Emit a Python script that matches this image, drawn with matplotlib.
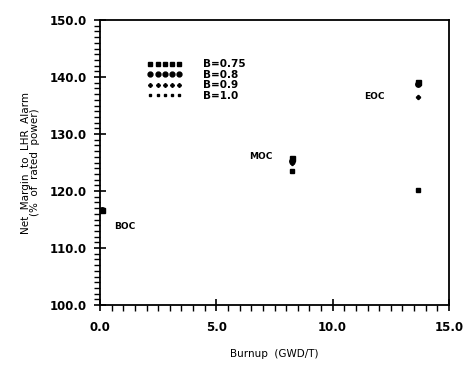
import matplotlib
matplotlib.use("Agg")
import matplotlib.pyplot as plt
from matplotlib.ticker import MultipleLocator, FormatStrFormatter

# burnup points (GWD/T) and net margin for each B value
burnup = [0.1, 8.25, 13.65]
margin_075 = [116.7, 125.8, 139.2]
margin_08 = [116.7, 125.3, 138.8]
margin_09 = [116.7, 125.0, 136.5]
margin_10 = [116.7, 123.5, 120.2]
labels = ["B=0.75", "B=0.8", "B=0.9", "B=1.0"]

plt.rcParams["font.family"] = "DejaVu Sans"
plt.rcParams["font.weight"] = "bold"

fig = plt.figure(figsize=(4.67, 3.72), dpi=100)
ax = fig.add_axes([100 / 467, 1 - 305 / 372, 349 / 467, 285 / 372])

ax.plot(burnup, margin_075, ls="none", marker="s", ms=3.6, color="black", label=labels[0])
ax.plot(burnup, margin_08, ls="none", marker="o", ms=3.9, color="black", label=labels[1])
ax.plot(burnup, margin_09, ls="none", marker="P", ms=2.8, color="black", label=labels[2])
ax.plot(burnup, margin_10, ls="none", marker="s", ms=2.3, color="black", label=labels[3])

ax.text(1.05, 113.8, "BOC", fontsize=6.5, ha="center", va="center")
ax.text(6.9, 126.0, "MOC", fontsize=6.5, ha="center", va="center")
ax.text(11.8, 136.5, "EOC", fontsize=6.5, ha="center", va="center")

ax.set_xlim(0, 15)
ax.set_ylim(100, 150)
ax.xaxis.set_major_locator(MultipleLocator(5))
ax.xaxis.set_minor_locator(MultipleLocator(0.5))
ax.yaxis.set_major_locator(MultipleLocator(10))
ax.yaxis.set_minor_locator(MultipleLocator(1))
ax.xaxis.set_major_formatter(FormatStrFormatter("%.1f"))
ax.yaxis.set_major_formatter(FormatStrFormatter("%.1f"))
ax.tick_params(which="major", direction="inout", length=9, width=1.2, labelsize=8.5)
ax.tick_params(axis="x", which="major", pad=7)
ax.tick_params(axis="y", which="major", pad=5)
ax.tick_params(which="minor", direction="out", length=4, width=1.0)
for s in ax.spines.values():
    s.set_linewidth(1.3)

ax.set_xlabel("Burnup  (GWD/T)", fontsize=7.5, labelpad=11)
ax.set_ylabel("Net  Margin  to  LHR  Alarm\n(%  of  rated  power)", fontsize=7.5,
              labelpad=7, linespacing=0.9)

ax.legend(loc="upper left", bbox_to_anchor=(0.12, 0.88), frameon=False, numpoints=5,
          handlelength=3.4, handletextpad=2.0, labelspacing=0.05, fontsize=7.5,
          borderpad=0, markerscale=0.9)

fig.savefig("out.png", dpi=100)
